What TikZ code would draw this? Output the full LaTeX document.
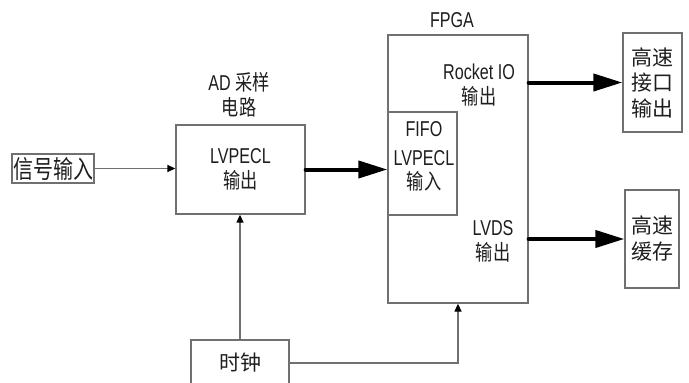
\documentclass[tikz,border=0pt]{standalone}
\usepackage{fontspec}
\setmainfont[FakeStretch=0.75]{Liberation Sans}
\newfontfamily\cjk{Noto Sans CJK SC}
\newfontfamily\cjkn[FakeStretch=0.8]{Noto Sans CJK SC}
\newcommand{\zh}[1]{{\cjkn #1}}
\usetikzlibrary{arrows.meta,calc}

\definecolor{linegray}{RGB}{112,112,112}
\definecolor{txt}{RGB}{30,30,30}

\tikzset{
  blk/.style={draw=linegray, line width=1.3pt, inner sep=0pt, align=center, text=txt},
  lbl/.style={align=center, text=txt, inner sep=0pt},
  sigline/.style={draw=linegray, line width=1.3pt, -{Triangle[length=8pt,width=7pt,color=black]}},
  busarrow/.style={line width=4pt, line cap=round, -{Triangle[length=29pt,width=17pt]}},
}

\begin{document}
\begin{tikzpicture}[x=1pt,y=-1pt,font=\fontsize{21.5}{25}\selectfont]
    \useasboundingbox (0,0) rectangle (689,383);
    % blocks
    \node[blk, minimum width=82pt, minimum height=29pt, font=\fontsize{25}{30}\selectfont\cjkn] (sig) at (53,168.5) {信号输入};
    \node[blk, minimum width=129pt, minimum height=89pt] (ad) at (240.5,169.5) {LVPECL\\\zh{输出}};
    \node[lbl] (adlbl) at (239,95) {AD \zh{采样}\\\zh{电路}};
    \node[blk, minimum width=140pt, minimum height=268pt] (fpga) at (458,169) {};
    \node[lbl] (fpgalbl) at (452,20) {FPGA};
    \node[blk, minimum width=69pt, minimum height=103pt] (fifo) at (422.5,163.5) {};
    \node[lbl] (fifolbl) at (424,156) {FIFO\\[4pt]LVPECL\\[-1pt]\zh{输入}};
    \node[lbl] (rocket) at (479,85) {Rocket IO\\\zh{输出}};
    \node[lbl] (lvds) at (493,241) {LVDS\\\zh{输出}};
    \node[blk, minimum width=59pt, minimum height=99pt, font=\fontsize{21}{25.5}\selectfont\cjk] (hsout) at (652.5,82.5) {高速\\接口\\输出};
    \node[blk, minimum width=54pt, minimum height=98pt, font=\fontsize{21}{26}\selectfont\cjk] (hsbuf) at (652,239) {高速\\缓存};
    \node[blk, minimum width=98pt, minimum height=46pt, font=\fontsize{21}{25}\selectfont\cjk] (clk) at (240,363) {时钟};
    % connections
    \draw[sigline] (sig.east) -- (sig.east -| ad.west);
    \draw[busarrow] (ad.east) -- (ad.east -| fifo.west);
    \draw[busarrow] (hsout.west -| fpga.east) -- (hsout.west);
    \draw[busarrow] (hsbuf.west -| fpga.east) -- (hsbuf.west);
    \draw[sigline] (clk.north) -- (clk.north |- ad.south);
    \draw[sigline] (clk.east) -| (fpga.south);
\end{tikzpicture}
\end{document}
